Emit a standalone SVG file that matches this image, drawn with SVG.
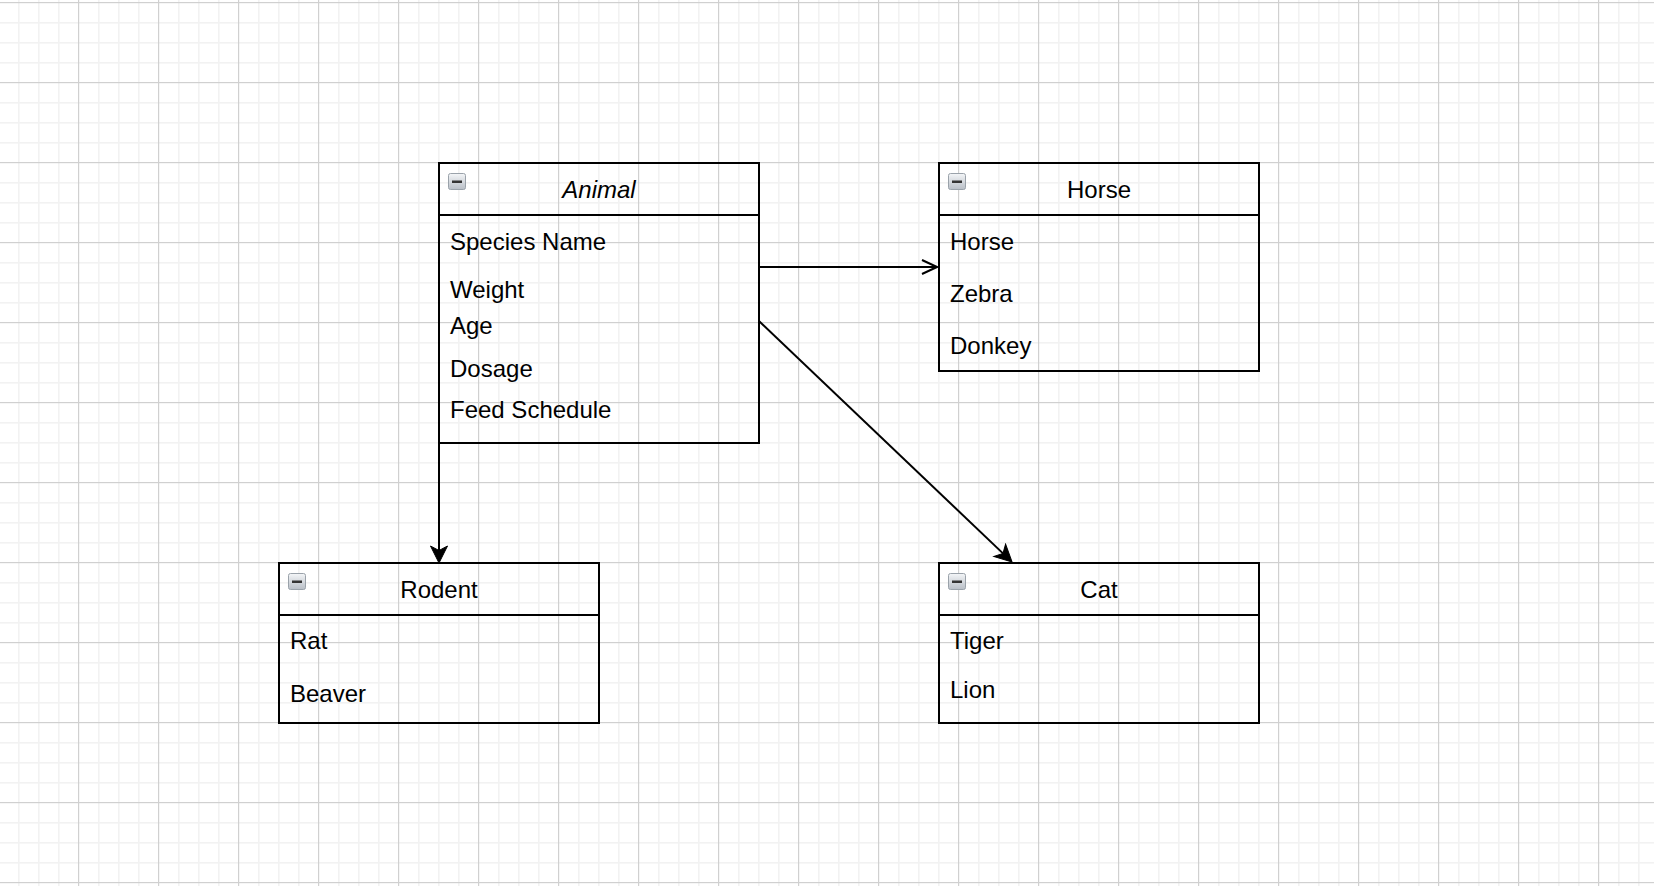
<svg xmlns="http://www.w3.org/2000/svg" width="1654" height="886" viewBox="0 0 1654 886">
<style>
.box{fill:none;stroke:#000;stroke-width:2}
.t{font-family:"Liberation Sans",Arial,sans-serif;font-size:24px;fill:#000}
.h{text-anchor:middle}
.edge{fill:none;stroke:#000;stroke-width:2}
</style>
<defs>
<pattern id="grid" patternUnits="userSpaceOnUse" x="-2" y="2" width="80" height="80">
<rect x="20" y="0" width="1.6" height="80" fill="#f2f2f2"/>
<rect x="40" y="0" width="1.6" height="80" fill="#f2f2f2"/>
<rect x="60" y="0" width="1.6" height="80" fill="#f2f2f2"/>
<rect x="0" y="20" width="80" height="1.6" fill="#f2f2f2"/>
<rect x="0" y="40" width="80" height="1.6" fill="#f2f2f2"/>
<rect x="0" y="60" width="80" height="1.6" fill="#f2f2f2"/>
<rect x="0" y="0" width="1.2" height="80" fill="#d0d0d0"/>
<rect x="0" y="0" width="80" height="1.2" fill="#d0d0d0"/>
</pattern>
<linearGradient id="ig" x1="0" y1="0" x2="0" y2="1">
<stop offset="0" stop-color="#f4f6f8"/>
<stop offset="1" stop-color="#b8bec6"/>
</linearGradient>
<g id="icon">
<rect x="0.5" y="0.5" width="17" height="16" rx="2" fill="url(#ig)" stroke="#9aa2aa" stroke-width="1"/>
<rect x="4" y="7.5" width="10" height="2.5" fill="#333"/>
</g>
<marker id="block" markerUnits="userSpaceOnUse" viewBox="-18 -10 20 20" refX="-10" refY="0" markerWidth="20" markerHeight="20" orient="auto">
<path d="M0 0 L-17 -8.5 L-12.5 0 L-17 8.5 Z" fill="#000" stroke="#000" stroke-width="1" stroke-linejoin="miter"/>
</marker>
<marker id="open" markerUnits="userSpaceOnUse" viewBox="-18 -10 20 20" refX="0" refY="0" markerWidth="20" markerHeight="20" orient="auto">
<path d="M-15 -7 L0 0 L-15 7" fill="none" stroke="#000" stroke-width="2"/>
</marker>
</defs>
<rect width="1654" height="886" fill="#ffffff"/>
<rect width="1654" height="886" fill="url(#grid)"/>

<g id="connectors">
<path class="edge" d="M759 267 L937 267" marker-end="url(#open)"/>
<path class="edge" d="M759 321 L1004.8 555.1" marker-end="url(#block)"/>
<path class="edge" d="M439 443 L439 553" marker-end="url(#block)"/>
</g>

<g id="animal">
<rect class="box" x="439" y="163" width="320" height="280"/>
<line class="box" x1="439" y1="215" x2="759" y2="215"/>
<use href="#icon" x="448" y="173"/>
<text class="t h" x="599" y="198" font-style="italic">Animal</text>
<text class="t" x="450" y="250">Species Name</text>
<text class="t" x="450" y="298">Weight</text>
<text class="t" x="450" y="334">Age</text>
<text class="t" x="450" y="377">Dosage</text>
<text class="t" x="450" y="418">Feed Schedule</text>
</g>

<g id="horse">
<rect class="box" x="939" y="163" width="320" height="208"/>
<line class="box" x1="939" y1="215" x2="1259" y2="215"/>
<use href="#icon" x="948" y="173"/>
<text class="t h" x="1099" y="198">Horse</text>
<text class="t" x="950" y="250">Horse</text>
<text class="t" x="950" y="302">Zebra</text>
<text class="t" x="950" y="354">Donkey</text>
</g>

<g id="rodent">
<rect class="box" x="279" y="563" width="320" height="160"/>
<line class="box" x1="279" y1="615" x2="599" y2="615"/>
<use href="#icon" x="288" y="573"/>
<text class="t h" x="439" y="598">Rodent</text>
<text class="t" x="290" y="649">Rat</text>
<text class="t" x="290" y="702">Beaver</text>
</g>

<g id="cat">
<rect class="box" x="939" y="563" width="320" height="160"/>
<line class="box" x1="939" y1="615" x2="1259" y2="615"/>
<use href="#icon" x="948" y="573"/>
<text class="t h" x="1099" y="598">Cat</text>
<text class="t" x="950" y="649">Tiger</text>
<text class="t" x="950" y="698">Lion</text>
</g>
</svg>
